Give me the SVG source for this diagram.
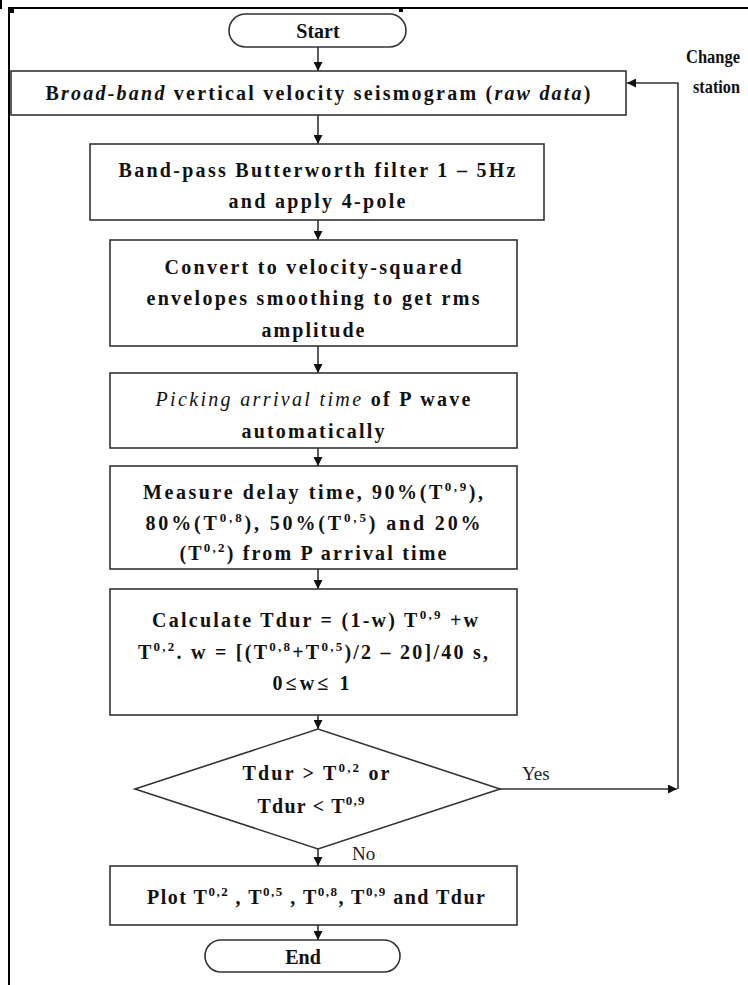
<svg xmlns="http://www.w3.org/2000/svg" width="748" height="985" viewBox="0 0 748 985">
<style>
  .box { fill: #fff; stroke: #333; stroke-width: 1.6; }
  .t { font-family: "Liberation Serif", "Times New Roman", serif; font-size: 20px; font-weight: bold; fill: #111; text-anchor: middle; }
  .lbl { font-family: "Liberation Serif", "Times New Roman", serif; font-size: 19px; fill: #222; }
  .cs { font-family: "Liberation Serif", "Times New Roman", serif; font-size: 18px; font-weight: bold; fill: #111; }
  .sup { font-size: 13px; }
  .i { font-style: italic; }
  .conn { fill: none; stroke: #333; stroke-width: 1.6; }
  .frame { stroke: #000; stroke-width: 2; fill: none; }
</style>
<defs>
  <marker id="ah" viewBox="0 0 10 10" refX="10" refY="5" markerWidth="9" markerHeight="9" markerUnits="userSpaceOnUse" orient="auto">
    <path d="M0,0 L10,5 L0,10 z" fill="#111"/>
  </marker>
</defs>
<rect width="748" height="985" fill="#fff"/>
<g id="frame">
  <path class="frame" d="M9,985 V8 H748"/>
  <rect x="9" y="8" width="5" height="5" fill="#000"/>
  <rect x="399" y="8" width="4" height="4" fill="#000"/>
  <rect x="0" y="0" width="2" height="9" fill="#000"/>
</g>
<g id="connectors">
  <line class="conn" x1="318" y1="47" x2="318" y2="71" marker-end="url(#ah)"/>
  <line class="conn" x1="318" y1="115" x2="318" y2="144" marker-end="url(#ah)"/>
  <line class="conn" x1="318" y1="220" x2="318" y2="240" marker-end="url(#ah)"/>
  <line class="conn" x1="318" y1="346" x2="318" y2="373" marker-end="url(#ah)"/>
  <line class="conn" x1="318" y1="448" x2="318" y2="466" marker-end="url(#ah)"/>
  <line class="conn" x1="318" y1="569" x2="318" y2="589" marker-end="url(#ah)"/>
  <line class="conn" x1="318" y1="715" x2="318" y2="729" marker-end="url(#ah)"/>
  <line class="conn" x1="318" y1="849" x2="318" y2="866" marker-end="url(#ah)"/>
  <line class="conn" x1="318" y1="925" x2="318" y2="940" marker-end="url(#ah)"/>
  <line class="conn" x1="500" y1="789" x2="677" y2="789" marker-end="url(#ah)"/>
  <polyline class="conn" points="678,789 678,83 627,83" marker-end="url(#ah)"/>
  <text class="lbl" x="522" y="780">Yes</text>
  <text class="lbl" x="352" y="860">No</text>
  <text class="cs" x="686" y="63" textLength="54" lengthAdjust="spacingAndGlyphs">Change</text>
  <text class="cs" x="693" y="93" textLength="47" lengthAdjust="spacingAndGlyphs">station</text>
</g>
<g id="start">
  <rect class="box" x="229" y="14" width="177" height="33" rx="16.5"/>
  <text class="t" x="318" y="38">Start</text>
</g>
<g id="raw">
  <rect class="box" x="11" y="71" width="615" height="44"/>
  <text class="t" x="318" y="100" textLength="545" lengthAdjust="spacing">B<tspan class="i">road-band</tspan> vertical velocity seismogram (<tspan class="i">raw data</tspan>)</text>
</g>
<g id="filter">
  <rect class="box" x="90" y="144" width="454" height="76"/>
  <text class="t" x="317" y="177" textLength="397" lengthAdjust="spacing">Band-pass Butterworth filter 1 – 5Hz</text>
  <text class="t" x="317" y="208" textLength="177" lengthAdjust="spacing">and apply 4-pole</text>
</g>
<g id="envelope">
  <rect class="box" x="110" y="240" width="407" height="106"/>
  <text class="t" x="313" y="274" textLength="297" lengthAdjust="spacing">Convert to velocity-squared</text>
  <text class="t" x="313" y="305" textLength="333" lengthAdjust="spacing">envelopes smoothing to get rms</text>
  <text class="t" x="313" y="337" textLength="103" lengthAdjust="spacing">amplitude</text>
</g>
<g id="picking">
  <rect class="box" x="110" y="373" width="407" height="75"/>
  <text class="t" x="313" y="406" textLength="315" lengthAdjust="spacing"><tspan class="i" font-weight="normal">Picking arrival time</tspan> of P wave</text>
  <text class="t" x="313" y="438" textLength="143" lengthAdjust="spacing">automatically</text>
</g>
<g id="measure">
  <rect class="box" x="110" y="466" width="407" height="103"/>
  <text class="t" x="313" y="499" textLength="340" lengthAdjust="spacing">Measure  delay time, 90%(T<tspan class="sup" dy="-8">0,9</tspan><tspan dy="8">),</tspan></text>
  <text class="t" x="313" y="530" textLength="335" lengthAdjust="spacing">80%(T<tspan class="sup" dy="-8">0,8</tspan><tspan dy="8">), 50%(T</tspan><tspan class="sup" dy="-8">0,5</tspan><tspan dy="8">)  and  20%</tspan></text>
  <text class="t" x="313" y="560" textLength="267" lengthAdjust="spacing">(T<tspan class="sup" dy="-8">0,2</tspan><tspan dy="8">) from P arrival time</tspan></text>
</g>
<g id="calculate">
  <rect class="box" x="110" y="589" width="407" height="126"/>
  <text class="t" x="315" y="627" textLength="326" lengthAdjust="spacing">Calculate Tdur = (1-w) T<tspan class="sup" dy="-8">0,9</tspan><tspan dy="8"> +w</tspan></text>
  <text class="t" x="313" y="659" textLength="350" lengthAdjust="spacing">T<tspan class="sup" dy="-8">0,2</tspan><tspan dy="8">.  w = [(T</tspan><tspan class="sup" dy="-8">0,8</tspan><tspan dy="8">+T</tspan><tspan class="sup" dy="-8">0,5</tspan><tspan dy="8">)/2 – 20]/40 s,</tspan></text>
  <text class="t" x="311" y="690" textLength="77" lengthAdjust="spacing">0≤w≤ 1</text>
</g>
<g id="decision">
  <polygon class="box" points="135,789 318,729 500,789 318,849"/>
  <text class="t" x="316" y="780" textLength="147" lengthAdjust="spacing">Tdur &gt; T<tspan class="sup" dy="-8">0,2</tspan><tspan dy="8"> or</tspan></text>
  <text class="t" x="311" y="813" textLength="107" lengthAdjust="spacing">Tdur &lt; T<tspan class="sup" dy="-8">0,9</tspan></text>
</g>
<g id="plot">
  <rect class="box" x="110" y="866" width="407" height="59"/>
  <text class="t" x="316" y="904" textLength="338" lengthAdjust="spacing">Plot  T<tspan class="sup" dy="-8">0,2</tspan><tspan dy="8"> , T</tspan><tspan class="sup" dy="-8">0,5</tspan><tspan dy="8"> , T</tspan><tspan class="sup" dy="-8">0,8</tspan><tspan dy="8">, T</tspan><tspan class="sup" dy="-8">0,9</tspan><tspan dy="8">  and Tdur</tspan></text>
</g>
<g id="end">
  <rect class="box" x="205" y="940" width="195" height="32" rx="16"/>
  <text class="t" x="303" y="964">End</text>
</g>
</svg>
